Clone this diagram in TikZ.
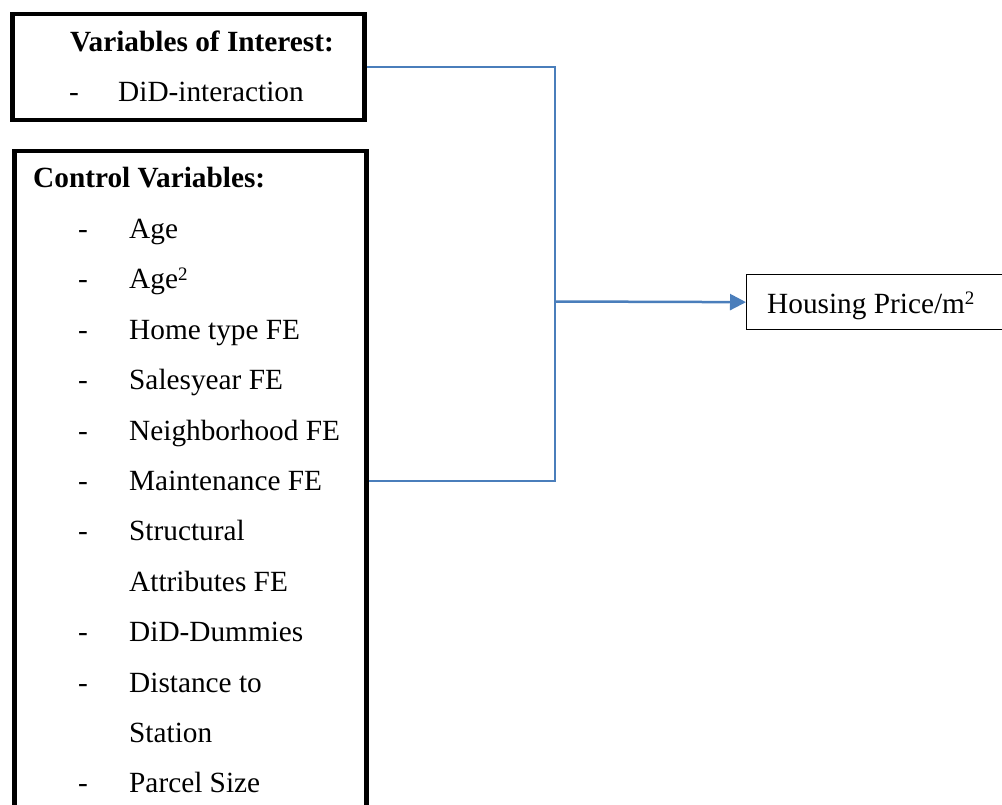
\documentclass[tikz,border=0pt]{standalone}
\usepackage{fontspec}
\setmainfont{Liberation Serif}
\usetikzlibrary{arrows.meta}
\definecolor{linkblue}{HTML}{4A7EBB}
\newcommand{\supnum}[1]{\raisebox{8.5pt}{\fontsize{19}{19}\selectfont #1}}
\tikzset{
  box/.style={draw,line width=4.5pt,inner sep=0pt,anchor=north west},
  outbox/.style={draw,line width=1.3pt,inner sep=0pt,anchor=north west},
  item/.style={anchor=base west,inner sep=0pt,font=\fontsize{29.3}{35}\selectfont},
  dashmark/.style={anchor=base,inner sep=0pt,font=\fontsize{29.3}{35}\selectfont},
  title/.style={item,font=\fontsize{29.3}{35}\selectfont\bfseries},
  link/.style={linkblue,line width=2.5pt},
}
\begin{document}
\begin{tikzpicture}[x=1pt,y=-1pt]
\useasboundingbox (0,0) rectangle (1002,805);
\clip (0,0) rectangle (1002,805);

% boxes
\node[box,minimum width=352pt,minimum height=106pt] (interest) at (10,12) {};
\node[box,minimum width=352pt,minimum height=700pt] (control) at (12,149) {};
\node[outbox,minimum width=300pt,minimum height=55pt] (housing) at (746,274) {};

% variables of interest
\node[title] (interesttitle) at (70,52) {Variables of Interest:};
\node[dashmark] (interestdash) at (74,102) {-};
\node[item] (didint) at (118,102) {DiD-interaction};

% control variables
\node[title] (controltitle) at (33,188) {Control Variables:};
\foreach \txt [count=\i] in {Age, Age\supnum{2}, Home type FE, Salesyear FE,
    Neighborhood FE, Maintenance FE, Structural, Attributes FE, DiD-Dummies,
    Distance to, Station, Parcel Size}
  \node[item] (item\i) at (129,188+50.4*\i) {\txt};
\foreach \i in {1,2,3,4,5,6,7,9,10,12}
  \node[dashmark] (dash\i) at (83,188+50.4*\i) {-};

% outcome
\node[item] (housingtxt) at (767,313) {Housing Price/m\supnum{2}};

% connectors
\coordinate (join) at (555,301.5);
\draw[link] (interest.east) -| (join);
\draw[link] (control.east |- item6) -| (join);
\draw[link,-{Triangle[length=16pt,width=16pt]}] (join) -- (housing.west);

\end{tikzpicture}
\end{document}
